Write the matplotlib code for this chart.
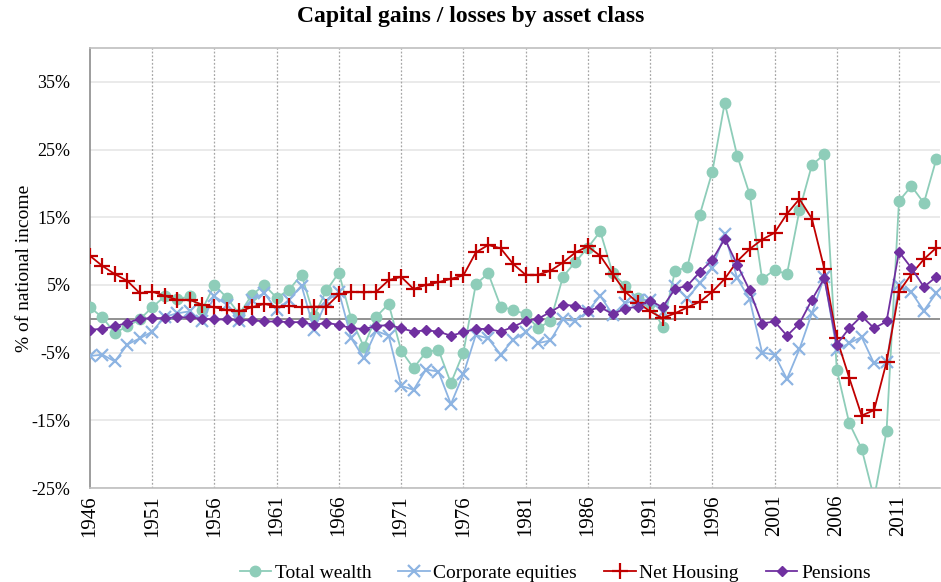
import numpy as np
import matplotlib
matplotlib.use("Agg")
import matplotlib.pyplot as plt
from matplotlib.ticker import FuncFormatter

plt.rcParams['font.family'] = ['Liberation Serif', 'DejaVu Serif']

years = np.arange(1946, 2015)

total_wealth = [1.7, 0.2, -2.1, -1.1, -0.1, 1.7, 3.3, 2.9, 3.3, 1.3,
                5.0, 3.1, 0.7, 3.5, 5.0, 3.1, 4.3, 6.5, 0.4, 4.2,
                6.8, -0.1, -4.1, 0.3, 2.2, -4.7, -7.3, -4.9, -4.6, -9.5,
                -5.0, 5.1, 6.7, 1.8, 1.3, 0.7, -1.4, -0.3, 6.2, 8.4,
                10.5, 12.9, 6.7, 4.9, 3.0, 2.4, -1.2, 7.0, 7.7, 15.4,
                21.7, 31.9, 24.1, 18.4, 5.9, 7.2, 6.6, 16.0, 22.7, 24.3,
                -7.5, -15.4, -19.2, -26.5, -16.6, 17.4, 19.6, 17.1, 23.6]

corporate_equities = [-5.5, -5.3, -6.3, -3.8, -2.9, -1.9, 0.3, 0.8, 1.1, -0.4,
                      3.3, 2.1, -0.3, 2.8, 3.8, 1.3, 2.8, 4.9, -1.6, 2.6,
                      4.0, -2.9, -5.8, -1.8, -2.5, -9.9, -10.5, -7.5, -7.8, -12.6,
                      -8.2, -2.4, -2.9, -5.3, -3.1, -2.0, -3.6, -3.2, -0.1, -0.3,
                      1.1, 3.4, 0.6, 2.3, 2.8, 2.8, 1.0, 4.9, 3.0, 5.3,
                      7.5, 12.5, 6.0, 2.9, -5.0, -5.3, -8.9, -4.5, 0.8, 6.2,
                      -4.6, -3.6, -2.7, -6.6, -6.4, 5.0, 3.9, 1.2, 3.8]

net_housing = [9.3, 7.8, 6.6, 5.6, 3.8, 4.0, 3.4, 2.8, 2.8, 2.1,
               1.7, 1.3, 1.1, 1.7, 2.2, 1.8, 1.9, 1.7, 1.8, 1.8,
               3.6, 4.0, 3.9, 4.0, 5.7, 6.2, 4.4, 5.0, 5.4, 5.9,
               6.4, 9.8, 10.9, 10.4, 8.1, 6.5, 6.5, 7.1, 8.3, 9.8,
               10.7, 9.3, 6.6, 4.0, 2.4, 1.1, 0.1, 0.8, 1.7, 2.5,
               4.0, 5.9, 8.5, 10.3, 11.7, 12.7, 15.5, 17.7, 14.8, 7.4,
               -2.9, -8.7, -14.3, -13.5, -6.4, 4.0, 6.6, 8.8, 10.5]

pensions = [-1.6, -1.5, -1.1, -0.6, 0.0, 0.1, 0.1, 0.2, 0.2, 0.0,
            -0.1, -0.1, -0.2, -0.2, -0.4, -0.4, -0.5, -0.5, -0.9, -0.6,
            -0.9, -1.4, -1.5, -1.1, -0.9, -1.4, -1.9, -1.7, -1.9, -2.5,
            -2.0, -1.5, -1.5, -1.9, -1.2, -0.3, 0.0, 1.0, 2.1, 1.9,
            1.2, 1.7, 0.7, 1.5, 1.8, 2.7, 1.7, 4.4, 4.9, 6.9,
            8.7, 11.8, 8.0, 4.2, -0.7, -0.4, -2.5, -0.7, 2.8, 6.0,
            -3.8, -1.4, 0.4, -1.4, -0.4, 9.9, 7.5, 4.7, 6.2]

year_ticks = list(range(1946, 2015, 5))
y_ticks = [-25, -15, -5, 5, 15, 25, 35]

fig = plt.figure(figsize=(9.41, 5.82), dpi=100)
ax = fig.add_axes([0.0956, 0.1615, 0.9034, 0.756])

ax.plot(years, total_wealth, color='#8ecdb9', marker='o', ms=7.5, lw=1.3,
        label='Total wealth', zorder=3)
ax.plot(years, corporate_equities, color='#8db4e2', marker='x', ms=9, mew=1.6, lw=1.3,
        label='Corporate equities', zorder=4)
ax.plot(years, net_housing, color='#c00000', marker='+', ms=11, mew=1.6, lw=1.3,
        label='Net Housing', zorder=5)
ax.plot(years, pensions, color='#7030a0', marker='D', ms=5.5, lw=1.3,
        label='Pensions', zorder=6)

ax.axhline(0, color='#7f7f7f', lw=1.2, zorder=2)
for yv in y_ticks:
    ax.axhline(yv, color='#e6e6e6', lw=1.2, zorder=1)
for xv in year_ticks[1:]:
    ax.axvline(xv, color='#a6a6a6', lw=0.9, ls=(0, (1.5, 1.5)), zorder=1)

ax.set_xlim(1946, 2014.3)
ax.set_ylim(-25, 40)
ax.set_xticks(year_ticks)
ax.set_xticklabels([str(y) for y in year_ticks], rotation=90, fontsize=15)
ax.set_yticks(y_ticks)
ax.yaxis.set_major_formatter(FuncFormatter(lambda v, p: '%d%%' % v))
ax.tick_params(axis='y', labelsize=13, length=0, pad=14)
ax.tick_params(axis='x', length=0, pad=5)

for s in ['top', 'right', 'bottom']:
    ax.spines[s].set_color('#bfbfbf')
    ax.spines[s].set_linewidth(1.2)
ax.spines['right'].set_visible(False)
ax.spines['left'].set_color('#8c8c8c')
ax.spines['left'].set_linewidth(1.2)

ax.set_ylabel('% of national income', fontsize=14, labelpad=-1)
fig.suptitle('Capital gains / losses by asset class', fontsize=17, fontweight='bold', y=0.99)

fig.legend(loc='lower center', bbox_to_anchor=(0.59, -0.03), ncol=4, frameon=False,
           fontsize=14, handlelength=1.6, handletextpad=0.2, columnspacing=1.4)

fig.savefig('out.png', dpi=100)
